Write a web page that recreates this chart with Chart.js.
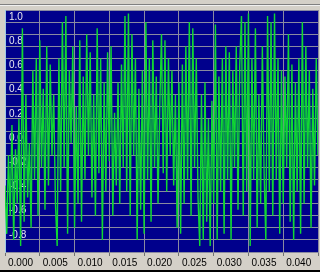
<!DOCTYPE html>
<html>
<head>
<meta charset="utf-8">
<script src="https://cdn.jsdelivr.net/npm/chart.js@4/dist/chart.umd.min.js"></script>
<style>
  html, body { margin: 0; padding: 0; background: #d4d0c8; }
  #wrap { width: 320px; height: 272px; position: relative; }
</style>
</head>
<body>
<div id="wrap"><canvas id="scope" width="320" height="272"></canvas></div>
<script>
// sampling and signal values
const sampleStep = 0.00025; // seconds between samples
const signal = [
    -0.45, -0.85, -0.2, -0.7, 0.05, -0.9, -0.15, -0.6, 0.1, -0.95,
    0.85, -0.75, 0.3, -0.55, -0.1, -0.8, 0.5, -0.4, 0.6, -0.7,
    0.75, -0.3, 0.35, -0.65, 0.7, -0.45, 0.55, -0.2, 0.3, -0.6,
    -0.95, 0.6, -0.5, 0.9, -0.3, 0.95, -0.85, 0.5, -0.1, 0.7,
    -0.8, 0.2, -0.6, 0.75, -0.75, 0.45, -0.4, 0.8, -0.2, 0.65,
    -0.55, 0.3, -0.7, 0.85, -0.35, 0.6, -0.9, 0.4, -0.5, 0.65,
    -0.25, 0.7, -0.7, 0.15, -0.45, 0.4, -0.6, 0.55, -0.3, 0.95,
    -0.5, 0.97, -0.7, 0.8, -0.2, 0.6, -0.9, 0.35, -0.65, 0.5,
    -0.85, 0.9, -0.4, 0.6, -0.75, 0.75, -0.3, 0.45, -0.6, 0.2,
    0.8, -0.35, 0.75, -0.5, 0.6, -0.2, 0.5, -0.45, 0.3, -0.8,
    0.4, -0.85, 0.55, -0.6, 0.7, -0.4, 0.9, -0.7, 0.85, -0.3,
    0.6, -0.55, -0.95, 0.3, -0.9, 0.4, -0.75, 0.1, -0.95, 0.25,
    -0.6, 0.88, -0.9, 0.45, -0.5, 0.6, -0.85, 0.7, -0.4, 0.65,
    -0.9, 0.5, -0.3, 0.7, -0.65, 0.55, 0.95, -0.7, 0.9, -0.5,
    0.97, -0.95, 0.6, -0.4, 0.85, -0.8, 0.3, -0.6, 0.7, -0.35,
    -0.9, 0.95, -0.5, 0.9, -0.7, 0.97, -0.4, 0.6, -0.85, 0.5,
    -0.6, 0.45, -0.3, 0.8, -0.75, 0.55, -0.9, 0.4, -0.5, 0.6,
    -0.85, 0.9, -0.6, 0.7, -0.3, 0.5, -0.8, 0.35, -0.45, 0.6, -0.2
];
const timeMin = 0, timeMax = 0.045, timeStep = 0.005;
const ampMin = -1.0, ampMax = 1.0, ampStep = 0.1;

const points = signal.map((v, i) => ({ x: i * sampleStep, y: v }));

const font = { family: '"Liberation Sans Narrow", "Liberation Sans", Arial, sans-serif', size: 10 };

// navy plot background and the window frame lines
const scopeFrame = {
    id: 'scopeFrame',
    beforeDraw(chart) {
        const ctx = chart.ctx;
        const a = chart.chartArea;
        ctx.save();
        ctx.fillStyle = '#808080';
        ctx.fillRect(0, 4, 320, 1);
        ctx.fillStyle = '#f0f0f0';
        ctx.fillRect(0, 5, 320, 1);
        ctx.fillStyle = '#00008c';
        ctx.fillRect(a.left, a.top, a.right - a.left, a.bottom - a.top);
        ctx.fillStyle = '#000000';
        ctx.fillRect(0, 270, 320, 2);
        ctx.restore();
    }
};

new Chart(document.getElementById('scope'), {
    type: 'line',
    data: {
        datasets: [{
            data: points,
            borderColor: '#10d832',
            borderWidth: 1.4,
            pointRadius: 0,
            tension: 0
        }]
    },
    options: {
        responsive: false,
        animation: false,
        devicePixelRatio: 1,
        layout: { padding: { left: 5, top: 8, right: 2, bottom: 0 } },
        plugins: { legend: { display: false }, tooltip: { enabled: false } },
        scales: {
            x: {
                type: 'linear',
                min: timeMin,
                max: timeMax,
                afterFit(scale) { scale.height = 20; },
                grid: { color: '#8a8aa0', lineWidth: 1, tickLength: 4, tickColor: '#707070' },
                border: { color: '#8a8aa0' },
                ticks: {
                    stepSize: timeStep,
                    align: 'start',
                    labelOffset: 3,
                    padding: 1,
                    maxRotation: 0,
                    autoSkip: false,
                    color: '#000000',
                    font: font,
                    callback: v => (v > timeMax - timeStep / 2 ? '' : v.toFixed(3))
                }
            },
            y: {
                min: ampMin,
                max: ampMax,
                afterFit(scale) { scale.width = 0; },
                grid: { color: '#8a8aa0', lineWidth: 1, drawTicks: false },
                border: { color: '#9cc8e8' },
                ticks: {
                    stepSize: ampStep,
                    mirror: true,
                    padding: 4,
                    labelOffset: 7,
                    autoSkip: false,
                    color: '#e8e8f0',
                    font: font,
                    callback: v => {
                        const k = Math.round(v * 10);
                        if (k % 2 !== 0 || k <= -10) return '';
                        return (k / 10).toFixed(1);
                    }
                }
            }
        }
    },
    plugins: [scopeFrame]
});
</script>
</body>
</html>
